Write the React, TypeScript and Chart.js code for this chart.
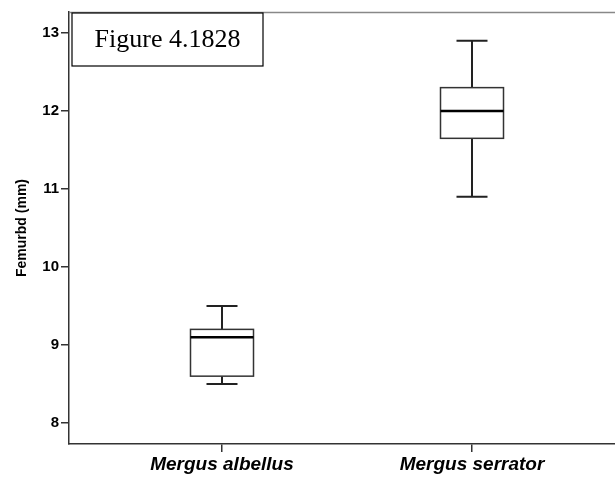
import React, { useEffect, useRef } from "react";
import { Chart, registerables } from "chart.js";

Chart.register(...registerables);

const categories = ["Mergus albellus", "Mergus serrator"];
const whiskerLow = [8.5, 10.9];
const q1 = [8.6, 11.65];
const median = [9.1, 12.0];
const q3 = [9.2, 12.3];
const whiskerHigh = [9.5, 12.9];
const yTicks = [8, 9, 10, 11, 12, 13];
const yTitle = "Femurbd (mm)";
const figureLabel = "Figure 4.1828";

const boxPlugin = {
  id: "boxes",
  afterDatasetsDraw(chart: any) {
    const { ctx, scales, chartArea } = chart;
    const xs = scales.x;
    const ys = scales.y;
    ctx.save();
    ctx.strokeStyle = "#888";
    ctx.lineWidth = 1.5;
    ctx.beginPath();
    ctx.moveTo(chartArea.left, chartArea.top + 0.5);
    ctx.lineTo(chartArea.right, chartArea.top + 0.5);
    ctx.stroke();

    const boxHalf = 0.126;
    const capHalf = 0.062;
    categories.forEach((_, i) => {
      const xc = xs.getPixelForValue(i + 1);
      const xl = xs.getPixelForValue(i + 1 - boxHalf);
      const xr = xs.getPixelForValue(i + 1 + boxHalf);
      const cl = xs.getPixelForValue(i + 1 - capHalf);
      const cr = xs.getPixelForValue(i + 1 + capHalf);
      const yLo = ys.getPixelForValue(whiskerLow[i]);
      const yQ1 = ys.getPixelForValue(q1[i]);
      const yMed = ys.getPixelForValue(median[i]);
      const yQ3 = ys.getPixelForValue(q3[i]);
      const yHi = ys.getPixelForValue(whiskerHigh[i]);
      ctx.strokeStyle = "#222";
      ctx.lineWidth = 2;
      ctx.beginPath();
      ctx.moveTo(xc, yHi);
      ctx.lineTo(xc, yQ3);
      ctx.moveTo(xc, yQ1);
      ctx.lineTo(xc, yLo);
      ctx.moveTo(cl, yHi);
      ctx.lineTo(cr, yHi);
      ctx.moveTo(cl, yLo);
      ctx.lineTo(cr, yLo);
      ctx.stroke();
      ctx.fillStyle = "#fff";
      ctx.fillRect(xl, yQ3, xr - xl, yQ1 - yQ3);
      ctx.strokeStyle = "#333";
      ctx.lineWidth = 1.5;
      ctx.strokeRect(xl, yQ3, xr - xl, yQ1 - yQ3);
      ctx.strokeStyle = "#000";
      ctx.lineWidth = 2.5;
      ctx.beginPath();
      ctx.moveTo(xl, yMed);
      ctx.lineTo(xr, yMed);
      ctx.stroke();
    });

    const bx = chartArea.left + 3;
    const by = chartArea.top + 1;
    const bw = 191;
    const bh = 53;
    ctx.fillStyle = "#fff";
    ctx.fillRect(bx, by, bw, bh);
    ctx.strokeStyle = "#000";
    ctx.lineWidth = 1.2;
    ctx.strokeRect(bx, by, bw, bh);
    ctx.fillStyle = "#000";
    ctx.font = "26px 'Liberation Serif', 'Times New Roman', serif";
    ctx.textAlign = "center";
    ctx.textBaseline = "middle";
    ctx.fillText(figureLabel, bx + bw / 2, by + bh / 2 + 1);
    ctx.restore();
  },
};

export default function App() {
  const ref = useRef<HTMLCanvasElement>(null);
  useEffect(() => {
    if (!ref.current) return;
    const chart = new Chart(ref.current, {
      type: "scatter",
      data: {
        datasets: [
          {
            data: categories.map((_, i) => ({ x: i + 1, y: median[i] })),
            pointRadius: 0,
            showLine: false,
          },
        ],
      },
      options: {
        animation: false,
        responsive: false,
        events: [],
        layout: { padding: { top: 12, right: 0, left: 0, bottom: 0 } },
        plugins: { legend: { display: false }, tooltip: { enabled: false } },
        scales: {
          x: {
            type: "linear",
            min: 0.388,
            max: 2.572,
            afterBuildTicks: (s: any) => {
              s.ticks = categories.map((_, i) => ({ value: i + 1 }));
            },
            afterFit: (s: any) => {
              s.height = 37;
            },
            ticks: {
              callback: (v: any) => categories[Number(v) - 1] ?? "",
              font: { family: "Arial, 'Liberation Sans', sans-serif", size: 19, weight: "bold", style: "italic" },
              color: "#000",
              padding: 1,
              maxRotation: 0,
            },
            grid: { drawOnChartArea: false, drawTicks: true, tickLength: 8, color: "#333", lineWidth: 1.5 },
            border: { display: true, color: "#333", width: 1.5 },
          },
          y: {
            type: "linear",
            min: 7.73,
            max: 13.27,
            afterBuildTicks: (s: any) => {
              s.ticks = yTicks.map((v) => ({ value: v }));
            },
            afterFit: (s: any) => {
              s.width = 69;
            },
            ticks: {
              font: { family: "Arial, 'Liberation Sans', sans-serif", size: 15, weight: "bold" },
              color: "#000",
              padding: 2,
            },
            title: {
              display: true,
              text: yTitle,
              font: { family: "Arial, 'Liberation Sans', sans-serif", size: 14, weight: "bold" },
              color: "#000",
              padding: { top: 14, bottom: 0 },
            },
            grid: { drawOnChartArea: false, drawTicks: true, tickLength: 8, color: "#333", lineWidth: 1.5 },
            border: { display: true, color: "#333", width: 1.5 },
          },
        },
      },
      plugins: [boxPlugin],
    } as any);
    return () => chart.destroy();
  }, []);
  return (
    <div style={{ position: "fixed", left: 0, top: 0, width: 615, height: 481, background: "#fff" }}>
      <canvas ref={ref} width={615} height={481} style={{ display: "block" }} />
    </div>
  );
}
